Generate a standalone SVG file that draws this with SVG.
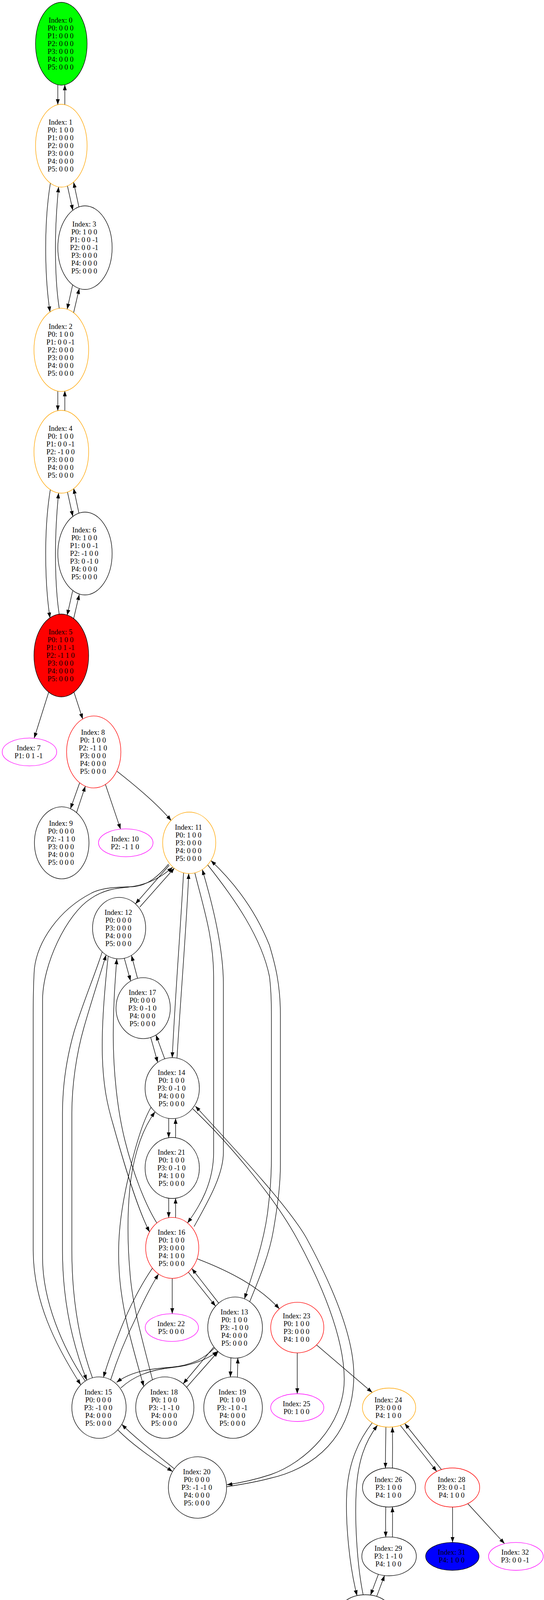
<svg xmlns="http://www.w3.org/2000/svg" width="1393" height="4336" viewBox="0 0 1393 4336">
<defs>
<style>
.nd ellipse{stroke-width:1.33}
.k{stroke:#000;fill:#fff}
.o{stroke:#ffa500;fill:#fff}
.r{stroke:#ff0000;fill:#fff}
.m{stroke:#ff00ff;fill:#fff}
text{font-family:"Liberation Serif","Times New Roman",serif;font-size:18.5px;text-anchor:middle;fill:#000}
.e path{fill:none;stroke:#000;stroke-width:1.33;marker-end:url(#ah)}
</style>
<marker id="ah" markerUnits="userSpaceOnUse" markerWidth="14" markerHeight="10" refX="13.3" refY="4.67" orient="auto" viewBox="0 0 13.3 9.34">
<path d="M0,0 L13.3,4.67 L0,9.34 z" fill="#000"/>
</marker>
</defs>
<rect width="1393" height="4336" fill="#fff"/>

<g id="edges" class="e">
<path d="M148,217 L148,268"/>
<path d="M166,268 L166,217"/>
<path d="M172.7,476 L186.5,538.5"/>
<path d="M202,529.7 L188.5,466.5"/>
<path d="M129,469 C119,530 117,590 117,634 C117,680 119,740 128,798.6"/>
<path d="M151.7,789.4 C144,740 142,680 142,634 C142,590 145,530 150,478.4"/>
<path d="M186,729.3 L172,791.6"/>
<path d="M188.5,800.5 L203,738.6"/>
<path d="M148,1000.5 L148,1051.5"/>
<path d="M166,1051.5 L166,1000.5"/>
<path d="M172.7,1259.5 L186.5,1322"/>
<path d="M202,1313.2 L188.5,1250"/>
<path d="M129,1252.5 C119,1313.5 117,1373.5 117,1417.5 C117,1463.5 119,1523.5 128,1582.1"/>
<path d="M151.7,1572.9 C144,1523.5 142,1463.5 142,1417.5 C142,1373.5 145,1313.5 150,1261.9"/>
<path d="M186,1512.8 L172,1575.1"/>
<path d="M188.5,1584 L203,1522.1"/>
<path d="M124.7,1772 L87.5,1889.8"/>
<path d="M189.4,1772 L211.8,1840.7"/>
<path d="M204,2004 L180.4,2070.3"/>
<path d="M196,2080.2 L218.5,2012.7"/>
<path d="M270,2008.2 L308.7,2122.6"/>
<path d="M299.7,1974.5 C345,2010 405,2060 438.4,2100.9"/>
<path d="M433.3,2215 L346.7,2314"/>
<path d="M358,2322 L446.7,2222"/>
<path d="M431.7,2212 C410,2238 380,2268 340,2270 C300,2271 260,2272 233,2287 C150,2330 96,2410 88,2480 C86,2510 85,2550 85,2600 L85,3200 C85,3330 140,3440 206.7,3545"/>
<path d="M218.3,3535.7 C160,3450 109,3330 109,3220 L109,2560 C109,2470 170,2340 233,2300 C255,2285 280,2276 310,2273 C350,2270 395,2262 442,2220"/>
<path d="M470,2234.4 C462,2380 448,2560 441,2707.7"/>
<path d="M453.2,2708.9 C462,2560 477,2380 483.3,2236.2"/>
<path d="M499,2235 C520,2320 547,2400 547,2500 L547,2950 C547,3030 510,3090 480,3131"/>
<path d="M497,3140 C530,3080 572,3010 572,2950 L572,2520 C572,2420 540,2300 518,2226"/>
<path d="M531.7,2214 C600,2300 670,2400 690,2500 C695,2540 695,2580 695,2620 L695,2960 C695,3000 693,3040 688,3080 C680,3170 650,3250 626,3325"/>
<path d="M639.4,3332.4 C665,3270 690,3210 700,3150 C712,3080 718,3030 718,2980 L718,2600 C718,2520 705,2470 690,2420 C650,2320 590,2250 540,2203"/>
<path d="M318.3,2453 L334.3,2511"/>
<path d="M352.2,2504.5 L336.7,2446"/>
<path d="M385.9,2655.7 L403.8,2719.8"/>
<path d="M421.8,2710.7 L399.3,2649.6"/>
<path d="M432,2863 L432,2912.7"/>
<path d="M449.6,2912.6 L449.6,2863.1"/>
<path d="M432,3067.3 L432,3117.3"/>
<path d="M449.6,3117.2 L449.6,3067.4"/>
<path d="M493.6,2838.4 C580,2920 700,3060 760,3170 C820,3280 881,3420 881.5,3530 C882,3650 780,3745 693,3775 C650,3789 610,3797 581,3801"/>
<path d="M581,3806 C620,3800 660,3793 693,3784 C800,3760 906,3680 906,3520 C906,3420 850,3290 785,3170 C740,3090 600,2940 500.3,2831.7"/>
<path d="M386.8,2834.5 C360,2880 340,2960 325,3030 C310,3100 300,3170 305,3250 C310,3350 340,3450 368,3549"/>
<path d="M390.4,3532.3 C370,3450 340,3350 333,3260 C326,3180 325,3100 335,3020 C345,2950 365,2890 397.1,2846.2"/>
<path d="M261.7,2436.6 C245,2490 215,2560 190,2640 C170,2710 160,2780 160,2850 L160,3200 C160,3330 185,3440 222.3,3533.3"/>
<path d="M236.7,3527.2 C205,3440 184,3330 184,3200 L184,2850 C184,2780 195,2700 215,2630 C235,2560 255,2500 271.7,2444.5"/>
<path d="M277,2447.6 C268,2530 260,2620 262,2700 C264,2780 275,2830 290,2880 C315,2970 350,3090 383,3154"/>
<path d="M401.6,3131 C370,3080 340,3000 320,2920 C300,2840 290,2740 290,2650 C290,2570 295,2510 299,2454.5"/>
<path d="M390.4,3246.3 C360,3290 330,3350 310,3400 C290,3450 275,3490 265,3526"/>
<path d="M283.3,3532.5 C300,3480 320,3430 345,3380 C365,3335 385,3295 406,3261.5"/>
<path d="M441,3272.6 L441,3363"/>
<path d="M482.4,3256.8 L552,3343.8"/>
<path d="M560,3336 L491.3,3247.5"/>
<path d="M504.8,3222.5 C590,3255 665,3295 715.4,3350.8"/>
<path d="M549.7,3450.6 C520,3480 490,3495 440,3500 C390,3504 340,3508 298.4,3539"/>
<path d="M309.6,3553 C340,3525 380,3507 440,3501 C490,3496 530,3480 557.7,3459.2"/>
<path d="M547,3449 L469,3542.5"/>
<path d="M477.9,3551.5 L558.6,3460"/>
<path d="M591.4,3476 L590,3525.2"/>
<path d="M608,3525.8 L609,3476.5"/>
<path d="M301.5,3660.3 C340,3700 400,3740 442,3767.2"/>
<path d="M446.5,3760.2 C410,3730 350,3685 311.8,3646.3"/>
<path d="M761.2,3463.3 L761.2,3568"/>
<path d="M810.6,3443.1 L953.2,3564.8"/>
<path d="M988.2,3653.1 C987.5,3690 987,3720 987,3758.5"/>
<path d="M1004.8,3758.6 C1005.5,3720 1005.5,3690 1004.8,3653.1"/>
<path d="M987.8,3857.6 C987.3,3880 987.3,3910 987.8,3935.1"/>
<path d="M1004.8,3935.2 C1005.3,3910 1005.3,3880 1004.8,3857.5"/>
<path d="M969,4030 L948.8,4083.4"/>
<path d="M964.5,4086.9 L984.7,4033.3"/>
<path d="M927.2,4181.2 L927.2,4230.6"/>
<path d="M945.2,4230.7 C945.5,4215 945.5,4200 945.2,4181.3"/>
<path d="M953.2,3642.2 C920,3685 893,3740 888,3820 C884,3900 895,4010 914.2,4084.9"/>
<path d="M929.9,4082.7 C915,4010 908,3900 912,3820 C916,3740 935,3690 966.7,3648.5"/>
<path d="M1025,3648.9 L1118.4,3766.9"/>
<path d="M1130.5,3762.1 L1036.3,3644"/>
<path d="M1158.8,3858 L1158.8,3948.6"/>
<path d="M1197.8,3849.3 L1292,3951.8"/>
</g>

<g id="node0" class="nd"><ellipse cx="157" cy="112" rx="66" ry="106" fill="#00ff00" stroke="#000"/><text x="155" y="58"><tspan x="155">Index: 0</tspan><tspan x="155" dy="20">P0: 0 0 0</tspan><tspan x="155" dy="20">P1: 0 0 0</tspan><tspan x="155" dy="20">P2: 0 0 0</tspan><tspan x="155" dy="20">P3: 0 0 0</tspan><tspan x="155" dy="20">P4: 0 0 0</tspan><tspan x="155" dy="20">P5: 0 0 0</tspan></text></g>
<g id="node1" class="nd"><ellipse class="o" cx="157" cy="373" rx="66" ry="106"/><text x="155" y="319"><tspan x="155">Index: 1</tspan><tspan x="155" dy="20">P0: 1 0 0</tspan><tspan x="155" dy="20">P1: 0 0 0</tspan><tspan x="155" dy="20">P2: 0 0 0</tspan><tspan x="155" dy="20">P3: 0 0 0</tspan><tspan x="155" dy="20">P4: 0 0 0</tspan><tspan x="155" dy="20">P5: 0 0 0</tspan></text></g>
<g id="node3" class="nd"><ellipse class="k" cx="217.6" cy="634" rx="69.5" ry="107"/><text x="215.6" y="580"><tspan x="215.6">Index: 3</tspan><tspan x="215.6" dy="20">P0: 1 0 0</tspan><tspan x="215.6" dy="20">P1: 0 0 -1</tspan><tspan x="215.6" dy="20">P2: 0 0 -1</tspan><tspan x="215.6" dy="20">P3: 0 0 0</tspan><tspan x="215.6" dy="20">P4: 0 0 0</tspan><tspan x="215.6" dy="20">P5: 0 0 0</tspan></text></g>
<g id="node2" class="nd"><ellipse class="o" cx="157" cy="895.6" rx="70" ry="106.5"/><text x="155" y="841.6"><tspan x="155">Index: 2</tspan><tspan x="155" dy="20">P0: 1 0 0</tspan><tspan x="155" dy="20">P1: 0 0 -1</tspan><tspan x="155" dy="20">P2: 0 0 0</tspan><tspan x="155" dy="20">P3: 0 0 0</tspan><tspan x="155" dy="20">P4: 0 0 0</tspan><tspan x="155" dy="20">P5: 0 0 0</tspan></text></g>
<g id="node4" class="nd"><ellipse class="o" cx="157" cy="1156.5" rx="70" ry="106"/><text x="155" y="1102.5"><tspan x="155">Index: 4</tspan><tspan x="155" dy="20">P0: 1 0 0</tspan><tspan x="155" dy="20">P1: 0 0 -1</tspan><tspan x="155" dy="20">P2: -1 0 0</tspan><tspan x="155" dy="20">P3: 0 0 0</tspan><tspan x="155" dy="20">P4: 0 0 0</tspan><tspan x="155" dy="20">P5: 0 0 0</tspan></text></g>
<g id="node6" class="nd"><ellipse class="k" cx="217.6" cy="1417" rx="69.5" ry="106"/><text x="215.6" y="1363"><tspan x="215.6">Index: 6</tspan><tspan x="215.6" dy="20">P0: 1 0 0</tspan><tspan x="215.6" dy="20">P1: 0 0 -1</tspan><tspan x="215.6" dy="20">P2: -1 0 0</tspan><tspan x="215.6" dy="20">P3: 0 -1 0</tspan><tspan x="215.6" dy="20">P4: 0 0 0</tspan><tspan x="215.6" dy="20">P5: 0 0 0</tspan></text></g>
<g id="node5" class="nd"><ellipse cx="157" cy="1678" rx="70" ry="106" fill="#ff0000" stroke="#000"/><text x="155" y="1624"><tspan x="155">Index: 5</tspan><tspan x="155" dy="20">P0: 1 0 0</tspan><tspan x="155" dy="20">P1: 0 1 -1</tspan><tspan x="155" dy="20">P2: -1 1 0</tspan><tspan x="155" dy="20">P3: 0 0 0</tspan><tspan x="155" dy="20">P4: 0 0 0</tspan><tspan x="155" dy="20">P5: 0 0 0</tspan></text></g>
<g id="node7" class="nd"><ellipse class="m" cx="75.4" cy="1925" rx="69.8" ry="35.7"/><text x="73.4" y="1921"><tspan x="73.4">Index: 7</tspan><tspan x="73.4" dy="20">P1: 0 1 -1</tspan></text></g>
<g id="node8" class="nd"><ellipse class="r" cx="240" cy="1925" rx="69.5" ry="92.2"/><text x="238" y="1881"><tspan x="238">Index: 8</tspan><tspan x="238" dy="20">P0: 1 0 0</tspan><tspan x="238" dy="20">P2: -1 1 0</tspan><tspan x="238" dy="20">P3: 0 0 0</tspan><tspan x="238" dy="20">P4: 0 0 0</tspan><tspan x="238" dy="20">P5: 0 0 0</tspan></text></g>
<g id="node9" class="nd"><ellipse class="k" cx="158" cy="2157.6" rx="69.8" ry="92.2"/><text x="156" y="2113.6"><tspan x="156">Index: 9</tspan><tspan x="156" dy="20">P0: 0 0 0</tspan><tspan x="156" dy="20">P2: -1 1 0</tspan><tspan x="156" dy="20">P3: 0 0 0</tspan><tspan x="156" dy="20">P4: 0 0 0</tspan><tspan x="156" dy="20">P5: 0 0 0</tspan></text></g>
<g id="node10" class="nd"><ellipse class="m" cx="322" cy="2157.6" rx="69.8" ry="35.7"/><text x="320" y="2153.6"><tspan x="320">Index: 10</tspan><tspan x="320" dy="20">P2: -1 1 0</tspan></text></g>
<g id="node11" class="nd"><ellipse class="o" cx="484.5" cy="2157.6" rx="68" ry="78.6"/><text x="482.5" y="2123.6"><tspan x="482.5">Index: 11</tspan><tspan x="482.5" dy="20">P0: 1 0 0</tspan><tspan x="482.5" dy="20">P3: 0 0 0</tspan><tspan x="482.5" dy="20">P4: 0 0 0</tspan><tspan x="482.5" dy="20">P5: 0 0 0</tspan></text></g>
<g id="node12" class="nd"><ellipse class="k" cx="305" cy="2376" rx="68" ry="78.6"/><text x="303" y="2342"><tspan x="303">Index: 12</tspan><tspan x="303" dy="20">P0: 0 0 0</tspan><tspan x="303" dy="20">P3: 0 0 0</tspan><tspan x="303" dy="20">P4: 0 0 0</tspan><tspan x="303" dy="20">P5: 0 0 0</tspan></text></g>
<g id="node17" class="nd"><ellipse class="k" cx="366.6" cy="2580.8" rx="69.5" ry="78"/><text x="364.6" y="2546.8"><tspan x="364.6">Index: 17</tspan><tspan x="364.6" dy="20">P0: 0 0 0</tspan><tspan x="364.6" dy="20">P3: 0 -1 0</tspan><tspan x="364.6" dy="20">P4: 0 0 0</tspan><tspan x="364.6" dy="20">P5: 0 0 0</tspan></text></g>
<g id="node14" class="nd"><ellipse class="k" cx="441" cy="2785.7" rx="69.5" ry="78"/><text x="439" y="2751.7"><tspan x="439">Index: 14</tspan><tspan x="439" dy="20">P0: 1 0 0</tspan><tspan x="439" dy="20">P3: 0 -1 0</tspan><tspan x="439" dy="20">P4: 0 0 0</tspan><tspan x="439" dy="20">P5: 0 0 0</tspan></text></g>
<g id="node21" class="nd"><ellipse class="k" cx="441" cy="2990" rx="69.5" ry="78"/><text x="439" y="2956"><tspan x="439">Index: 21</tspan><tspan x="439" dy="20">P0: 1 0 0</tspan><tspan x="439" dy="20">P3: 0 -1 0</tspan><tspan x="439" dy="20">P4: 1 0 0</tspan><tspan x="439" dy="20">P5: 0 0 0</tspan></text></g>
<g id="node16" class="nd"><ellipse class="r" cx="441" cy="3194.6" rx="68" ry="78"/><text x="439" y="3160.6"><tspan x="439">Index: 16</tspan><tspan x="439" dy="20">P0: 1 0 0</tspan><tspan x="439" dy="20">P3: 0 0 0</tspan><tspan x="439" dy="20">P4: 1 0 0</tspan><tspan x="439" dy="20">P5: 0 0 0</tspan></text></g>
<g id="node22" class="nd"><ellipse class="m" cx="440" cy="3398.6" rx="68.2" ry="35.5"/><text x="438" y="3394.6"><tspan x="438">Index: 22</tspan><tspan x="438" dy="20">P5: 0 0 0</tspan></text></g>
<g id="node13" class="nd"><ellipse class="k" cx="602" cy="3398.6" rx="70" ry="78.3"/><text x="600" y="3364.6"><tspan x="600">Index: 13</tspan><tspan x="600" dy="20">P0: 1 0 0</tspan><tspan x="600" dy="20">P3: -1 0 0</tspan><tspan x="600" dy="20">P4: 0 0 0</tspan><tspan x="600" dy="20">P5: 0 0 0</tspan></text></g>
<g id="node23" class="nd"><ellipse class="r" cx="761.2" cy="3398.6" rx="68" ry="64.7"/><text x="759.2" y="3374.6"><tspan x="759.2">Index: 23</tspan><tspan x="759.2" dy="20">P0: 1 0 0</tspan><tspan x="759.2" dy="20">P3: 0 0 0</tspan><tspan x="759.2" dy="20">P4: 1 0 0</tspan></text></g>
<g id="node15" class="nd"><ellipse class="k" cx="253.5" cy="3603.5" rx="69.5" ry="78.6"/><text x="251.5" y="3569.5"><tspan x="251.5">Index: 15</tspan><tspan x="251.5" dy="20">P0: 0 0 0</tspan><tspan x="251.5" dy="20">P3: -1 0 0</tspan><tspan x="251.5" dy="20">P4: 0 0 0</tspan><tspan x="251.5" dy="20">P5: 0 0 0</tspan></text></g>
<g id="node18" class="nd"><ellipse class="k" cx="422" cy="3603.5" rx="74.5" ry="78.6"/><text x="420" y="3569.5"><tspan x="420">Index: 18</tspan><tspan x="420" dy="20">P0: 1 0 0</tspan><tspan x="420" dy="20">P3: -1 -1 0</tspan><tspan x="420" dy="20">P4: 0 0 0</tspan><tspan x="420" dy="20">P5: 0 0 0</tspan></text></g>
<g id="node19" class="nd"><ellipse class="k" cx="596.8" cy="3603.5" rx="75" ry="78.6"/><text x="594.8" y="3569.5"><tspan x="594.8">Index: 19</tspan><tspan x="594.8" dy="20">P0: 1 0 0</tspan><tspan x="594.8" dy="20">P3: -1 0 -1</tspan><tspan x="594.8" dy="20">P4: 0 0 0</tspan><tspan x="594.8" dy="20">P5: 0 0 0</tspan></text></g>
<g id="node25" class="nd"><ellipse class="m" cx="761.2" cy="3603.5" rx="68" ry="35.5"/><text x="759.2" y="3599.5"><tspan x="759.2">Index: 25</tspan><tspan x="759.2" dy="20">P0: 1 0 0</tspan></text></g>
<g id="node24" class="nd"><ellipse class="o" cx="996.3" cy="3603.5" rx="68.2" ry="50"/><text x="994.3" y="3589.5"><tspan x="994.3">Index: 24</tspan><tspan x="994.3" dy="20">P3: 0 0 0</tspan><tspan x="994.3" dy="20">P4: 1 0 0</tspan></text></g>
<g id="node20" class="nd"><ellipse class="k" cx="505.7" cy="3808" rx="74.5" ry="78.7"/><text x="503.7" y="3774"><tspan x="503.7">Index: 20</tspan><tspan x="503.7" dy="20">P0: 0 0 0</tspan><tspan x="503.7" dy="20">P3: -1 -1 0</tspan><tspan x="503.7" dy="20">P4: 0 0 0</tspan><tspan x="503.7" dy="20">P5: 0 0 0</tspan></text></g>
<g id="node26" class="nd"><ellipse class="k" cx="996.3" cy="3808" rx="68" ry="50"/><text x="994.3" y="3794"><tspan x="994.3">Index: 26</tspan><tspan x="994.3" dy="20">P3: 1 0 0</tspan><tspan x="994.3" dy="20">P4: 1 0 0</tspan></text></g>
<g id="node28" class="nd"><ellipse class="r" cx="1158.3" cy="3808" rx="70" ry="50"/><text x="1156.3" y="3794"><tspan x="1156.3">Index: 28</tspan><tspan x="1156.3" dy="20">P3: 0 0 -1</tspan><tspan x="1156.3" dy="20">P4: 1 0 0</tspan></text></g>
<g id="node29" class="nd"><ellipse class="k" cx="996.3" cy="3984.3" rx="69.8" ry="49.7"/><text x="994.3" y="3970.3"><tspan x="994.3">Index: 29</tspan><tspan x="994.3" dy="20">P3: 1 -1 0</tspan><tspan x="994.3" dy="20">P4: 1 0 0</tspan></text></g>
<g id="node31" class="nd"><ellipse cx="1158.3" cy="3984.3" rx="68.4" ry="35.7" fill="#0000ff" stroke="#000"/><text x="1156.3" y="3980.3"><tspan x="1156.3">Index: 31</tspan><tspan x="1156.3" dy="20">P4: 1 0 0</tspan></text></g>
<g id="node32" class="nd"><ellipse class="m" cx="1321" cy="3984.3" rx="70" ry="35.7"/><text x="1319" y="3980.3"><tspan x="1319">Index: 32</tspan><tspan x="1319" dy="20">P3: 0 0 -1</tspan></text></g>
<g id="node27" class="nd"><ellipse class="k" cx="935.7" cy="4132" rx="70" ry="49.5"/><text x="933.7" y="4118"><tspan x="933.7">Index: 27</tspan><tspan x="933.7" dy="20">P3: 0 -1 0</tspan><tspan x="933.7" dy="20">P4: 1 0 0</tspan></text></g>
<g id="node30" class="nd"><ellipse class="k" cx="935.7" cy="4280" rx="74.7" ry="49.7"/><text x="933.7" y="4266"><tspan x="933.7">Index: 30</tspan><tspan x="933.7" dy="20">P3: 0 -1 -1</tspan><tspan x="933.7" dy="20">P4: 1 0 0</tspan></text></g>
</svg>
